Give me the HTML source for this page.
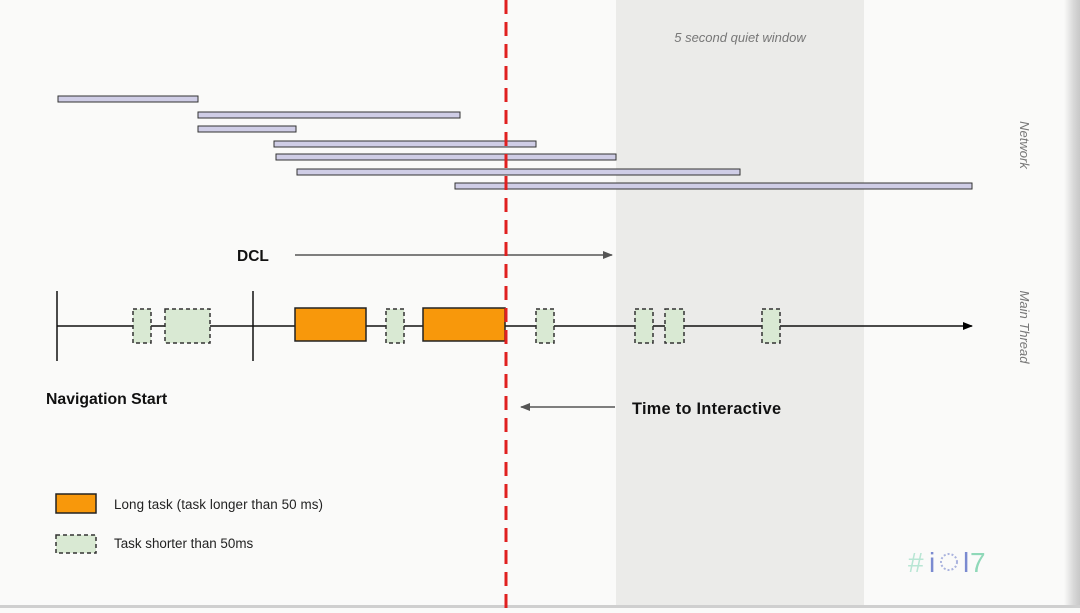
<!DOCTYPE html>
<html><head><style>body{margin:0;width:1080px;height:608px;overflow:hidden;background:#fafaf9}</style></head>
<body>
<svg width="1080" height="608" xmlns="http://www.w3.org/2000/svg" font-family="Liberation Sans, sans-serif">
<defs>
<linearGradient id="sh" x1="0" x2="1"><stop offset="0" stop-color="#fafaf9"/><stop offset="0.6" stop-color="#d8d8d8"/><stop offset="1" stop-color="#c8c8c8"/></linearGradient>
<marker id="ah" markerWidth="10" markerHeight="8" refX="9" refY="4" orient="auto" markerUnits="userSpaceOnUse"><path d="M0,0 L10,4 L0,8 z" fill="#000"/></marker>
<marker id="ag" markerWidth="10" markerHeight="8" refX="9" refY="4" orient="auto" markerUnits="userSpaceOnUse"><path d="M0,0 L10,4 L0,8 z" fill="#555"/></marker>
</defs>
<rect x="616" y="0" width="248" height="608" fill="#ebebe9"/>
<rect x="1064" y="0" width="16" height="608" fill="url(#sh)"/>
<rect x="0" y="605" width="1080" height="3" fill="#cfcfcf"/>
<text x="740" y="42" font-size="13" font-style="italic" fill="#777" text-anchor="middle">5 second quiet window</text>
<g fill="#cfcde6" stroke="#333" stroke-width="1">
<rect x="58" y="96" width="140" height="6"/>
<rect x="198" y="112" width="262" height="6"/>
<rect x="198" y="126" width="98" height="6"/>
<rect x="274" y="141" width="262" height="6"/>
<rect x="276" y="154" width="340" height="6"/>
<rect x="297" y="169" width="443" height="6"/>
<rect x="455" y="183" width="517" height="6"/>
</g>
<text transform="translate(1020,145) rotate(90)" font-size="13" font-style="italic" fill="#777" text-anchor="middle">Network</text>
<text transform="translate(1020,327) rotate(90)" font-size="13" font-style="italic" fill="#777" text-anchor="middle">Main Thread</text>
<text x="237" y="261" font-size="15.5" font-weight="bold" fill="#111">DCL</text>
<line x1="295" y1="255" x2="612" y2="255" stroke="#555" stroke-width="1.5" marker-end="url(#ag)"/>
<line x1="57" y1="326" x2="972" y2="326" stroke="#111" stroke-width="1.5" marker-end="url(#ah)"/>
<line x1="57" y1="291" x2="57" y2="361" stroke="#111" stroke-width="1.5"/>
<line x1="253" y1="291" x2="253" y2="361" stroke="#111" stroke-width="1.5"/>
<g fill="#d9e9d3" stroke="#333" stroke-width="1.5" stroke-dasharray="4,3">
<rect x="133" y="309" width="18" height="34"/>
<rect x="165" y="309" width="45" height="34"/>
<rect x="386" y="309" width="18" height="34"/>
<rect x="536" y="309" width="18" height="34"/>
<rect x="635" y="309" width="18" height="34"/>
<rect x="665" y="309" width="19" height="34"/>
<rect x="762" y="309" width="18" height="34"/>
</g>
<g fill="#f8980b" stroke="#222" stroke-width="1.5">
<rect x="295" y="308" width="71" height="33"/>
<rect x="423" y="308" width="82" height="33"/>
</g>
<line x1="506" y1="0" x2="506" y2="608" stroke="#e02020" stroke-width="3" stroke-dasharray="14,8"/>
<text x="46" y="404" font-size="15.8" font-weight="bold" fill="#111">Navigation Start</text>
<line x1="615" y1="407" x2="521" y2="407" stroke="#555" stroke-width="1.5" marker-end="url(#ag)"/>
<text x="632" y="414" font-size="16.3" font-weight="bold" fill="#111" textLength="149">Time to Interactive</text>
<rect x="56" y="494" width="40" height="19" fill="#f8980b" stroke="#222" stroke-width="1.5"/>
<text x="114" y="509" font-size="13.4" fill="#222" textLength="209">Long task (task longer than 50 ms)</text>
<rect x="56" y="535" width="40" height="18" fill="#d9e9d3" stroke="#333" stroke-width="1.5" stroke-dasharray="4,3"/>
<text x="114" y="548" font-size="13.4" fill="#222">Task shorter than 50ms</text>
<text x="908" y="572" font-size="28" fill="#b8e6d4">#</text>
<text x="929" y="572" font-size="28" fill="#7a8ad0">i</text>
<circle cx="949" cy="562" r="8" fill="none" stroke="#aab3de" stroke-width="2" stroke-dasharray="2,2"/>
<text x="963" y="572" font-size="28" fill="#7a8ad0">l</text>
<text x="970" y="572" font-size="28" fill="#8fd8b8">7</text>
</svg>
</body></html>
